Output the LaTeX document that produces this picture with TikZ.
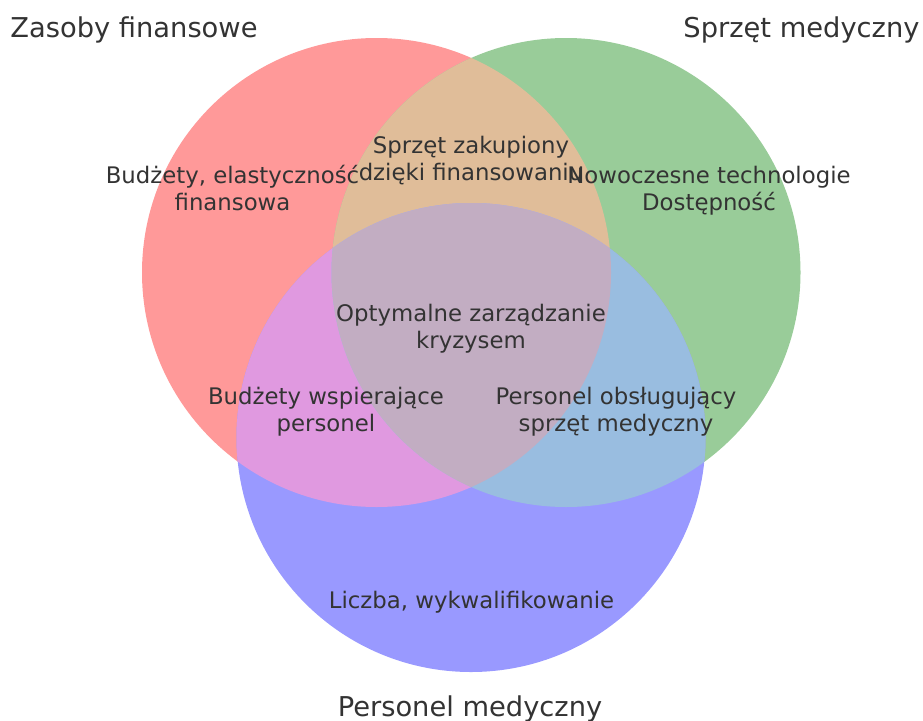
\documentclass[tikz,border=0pt]{standalone}
\usepackage{fontspec}
\setmainfont{DejaVu Sans}
\definecolor{setR}{HTML}{FF9999}
\definecolor{setG}{HTML}{99CC99}
\definecolor{setB}{HTML}{9999FF}
\definecolor{setRG}{HTML}{E0BD99}
\definecolor{setRB}{HTML}{E099E0}
\definecolor{setGB}{HTML}{99BDE0}
\definecolor{setRGB}{HTML}{C2ADC2}
\definecolor{ink}{HTML}{333333}
\tikzset{
  setlabel/.style={anchor=base, inner sep=0pt, text=ink,
    font=\fontsize{27.3}{32}\selectfont},
  regionlabel/.style={anchor=base, inner sep=0pt, text=ink,
    font=\fontsize{22.8}{27.2}\selectfont},
}
\newcommand{\twolines}[2]{\begin{tabular}[t]{@{}c@{}}#1\\#2\end{tabular}}
\begin{document}
\begin{tikzpicture}[x=1pt,y=-1pt]
  \path[use as bounding box] (0,0) rectangle (923,720);
  \def\rad{234.5pt}
  \coordinate (cR) at (376.5,272.5);
  \coordinate (cG) at (566,272.5);
  \coordinate (cB) at (471,437.5);

  % single sets
  \fill[setR] (cR) circle[radius=\rad];
  \fill[setG] (cG) circle[radius=\rad];
  \fill[setB] (cB) circle[radius=\rad];
  % pairwise overlaps
  \begin{scope}
    \clip (cR) circle[radius=\rad];
    \fill[setRG] (cG) circle[radius=\rad];
    \fill[setRB] (cB) circle[radius=\rad];
  \end{scope}
  \begin{scope}
    \clip (cG) circle[radius=\rad];
    \fill[setGB] (cB) circle[radius=\rad];
  \end{scope}
  % triple overlap
  \begin{scope}
    \clip (cR) circle[radius=\rad];
    \clip (cG) circle[radius=\rad];
    \fill[setRGB] (cB) circle[radius=\rad];
  \end{scope}

  % set titles
  \node[setlabel] (tR) at (134,37) {Zasoby finansowe};
  \node[setlabel] (tG) at (801.5,37) {Sprzęt medyczny};
  \node[setlabel] (tB) at (470,716) {Personel medyczny};

  % region texts
  \node[regionlabel] (lR) at (232.5,183) {\twolines{Budżety, elastyczność}{finansowa}};
  \node[regionlabel] (lRG) at (471,153) {\twolines{Sprzęt zakupiony}{dzięki finansowaniu}};
  \node[regionlabel] (lG) at (709,183) {\twolines{Nowoczesne technologie}{Dostępność}};
  \node[regionlabel] (lRGB) at (471,321) {\twolines{Optymalne zarządzanie}{kryzysem}};
  \node[regionlabel] (lRB) at (326,404) {\twolines{Budżety wspierające}{personel}};
  \node[regionlabel] (lGB) at (616,404) {\twolines{Personel obsługujący}{sprzęt medyczny}};
  \node[regionlabel] (lB) at (471.5,608) {Liczba, wykwalifikowanie};
\end{tikzpicture}
\end{document}
